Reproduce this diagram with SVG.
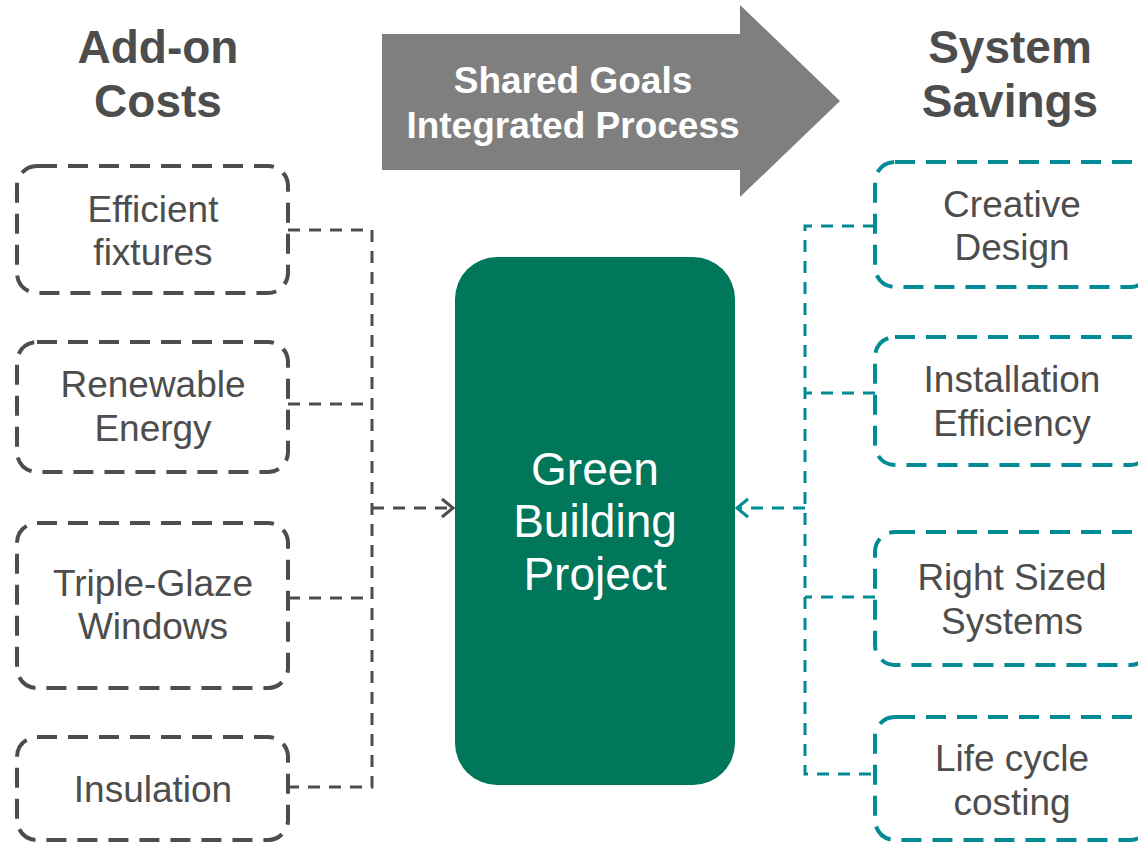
<svg xmlns="http://www.w3.org/2000/svg" width="1138" height="843" viewBox="0 0 1138 843">
<style>
.hdr{font-family:"Liberation Sans",Arial,sans-serif;font-weight:bold;font-size:46px;fill:#4d4d4d;text-anchor:middle}
.lbl{font-family:"Liberation Sans",Arial,sans-serif;font-size:37px;fill:#4d4d4d;text-anchor:middle}
.arr{font-family:"Liberation Sans",Arial,sans-serif;font-weight:bold;font-size:37px;fill:#ffffff;text-anchor:middle}
.ctr{font-family:"Liberation Sans",Arial,sans-serif;font-size:46px;fill:#ffffff;text-anchor:middle}
.boxg{fill:#ffffff;stroke:#4d4d4d;stroke-width:4;stroke-dasharray:20 11}
.boxt{fill:#ffffff;stroke:#008b95;stroke-width:4;stroke-dasharray:20 11}
.cg{fill:none;stroke:#4d4d4d;stroke-width:3;stroke-dasharray:12 9}
.ct{fill:none;stroke:#008b95;stroke-width:3;stroke-dasharray:12 9}
</style>
<defs>
<marker id="ag" markerUnits="userSpaceOnUse" markerWidth="16" markerHeight="22" refX="13" refY="11" orient="auto">
<path d="M2,2 L13,11 L2,20" fill="none" stroke="#4d4d4d" stroke-width="3"/>
</marker>
<marker id="at" markerUnits="userSpaceOnUse" markerWidth="16" markerHeight="22" refX="13" refY="11" orient="auto">
<path d="M2,2 L13,11 L2,20" fill="none" stroke="#008b95" stroke-width="3"/>
</marker>
</defs>
<rect width="1138" height="843" fill="#ffffff"/>

<g id="header-left">
<text class="hdr" x="158" y="63">Add-on</text>
<text class="hdr" x="158" y="117">Costs</text>
</g>
<g id="header-right">
<text class="hdr" x="1010" y="63">System</text>
<text class="hdr" x="1010" y="117">Savings</text>
</g>

<g id="process-arrow">
<polygon points="382,34 740,34 740,5 840,101 740,197 740,170 382,170" fill="#7f7f7f"/>
<text class="arr" x="573" y="93">Shared Goals</text>
<text class="arr" x="573" y="138">Integrated Process</text>
</g>

<g id="connectors">
<path class="cg" d="M288,230 H372 V787 H288"/>
<path class="cg" d="M288,404 H372"/>
<path class="cg" d="M288,598 H372"/>
<path class="cg" d="M372,508 H453" marker-end="url(#ag)"/>
<path class="ct" d="M875,226 H805 V774 H875"/>
<path class="ct" d="M875,393 H805"/>
<path class="ct" d="M875,597 H805"/>
<path class="ct" d="M805,508 H737" marker-end="url(#at)"/>
</g>

<g id="center">
<rect x="455" y="257" width="280" height="528" rx="42" fill="#00765a"/>
<text class="ctr" x="595" y="485">Green</text>
<text class="ctr" x="595" y="537">Building</text>
<text class="ctr" x="595" y="590">Project</text>
</g>

<g id="efficient-fixtures">
<rect class="boxg" x="17" y="166" width="271" height="127" rx="20"/>
<text class="lbl" x="153" y="222">Efficient</text>
<text class="lbl" x="153" y="265">fixtures</text>
</g>
<g id="renewable-energy">
<rect class="boxg" x="17" y="342" width="271" height="130" rx="20"/>
<text class="lbl" x="153" y="397">Renewable</text>
<text class="lbl" x="153" y="441">Energy</text>
</g>
<g id="triple-glaze">
<rect class="boxg" x="17" y="523" width="271" height="165" rx="20"/>
<text class="lbl" x="153" y="596">Triple-Glaze</text>
<text class="lbl" x="153" y="639">Windows</text>
</g>
<g id="insulation">
<rect class="boxg" x="17" y="737" width="271" height="103" rx="20"/>
<text class="lbl" x="153" y="802">Insulation</text>
</g>

<g id="creative-design">
<rect class="boxt" x="875" y="162" width="275" height="125" rx="20"/>
<text class="lbl" x="1012" y="217">Creative</text>
<text class="lbl" x="1012" y="260">Design</text>
</g>
<g id="installation-efficiency">
<rect class="boxt" x="875" y="337" width="275" height="128" rx="20"/>
<text class="lbl" x="1012" y="392">Installation</text>
<text class="lbl" x="1012" y="436">Efficiency</text>
</g>
<g id="right-sized">
<rect class="boxt" x="875" y="532" width="275" height="133" rx="20"/>
<text class="lbl" x="1012" y="590">Right Sized</text>
<text class="lbl" x="1012" y="634">Systems</text>
</g>
<g id="life-cycle">
<rect class="boxt" x="875" y="717" width="275" height="123" rx="20"/>
<text class="lbl" x="1012" y="771">Life cycle</text>
<text class="lbl" x="1012" y="815">costing</text>
</g>
</svg>
